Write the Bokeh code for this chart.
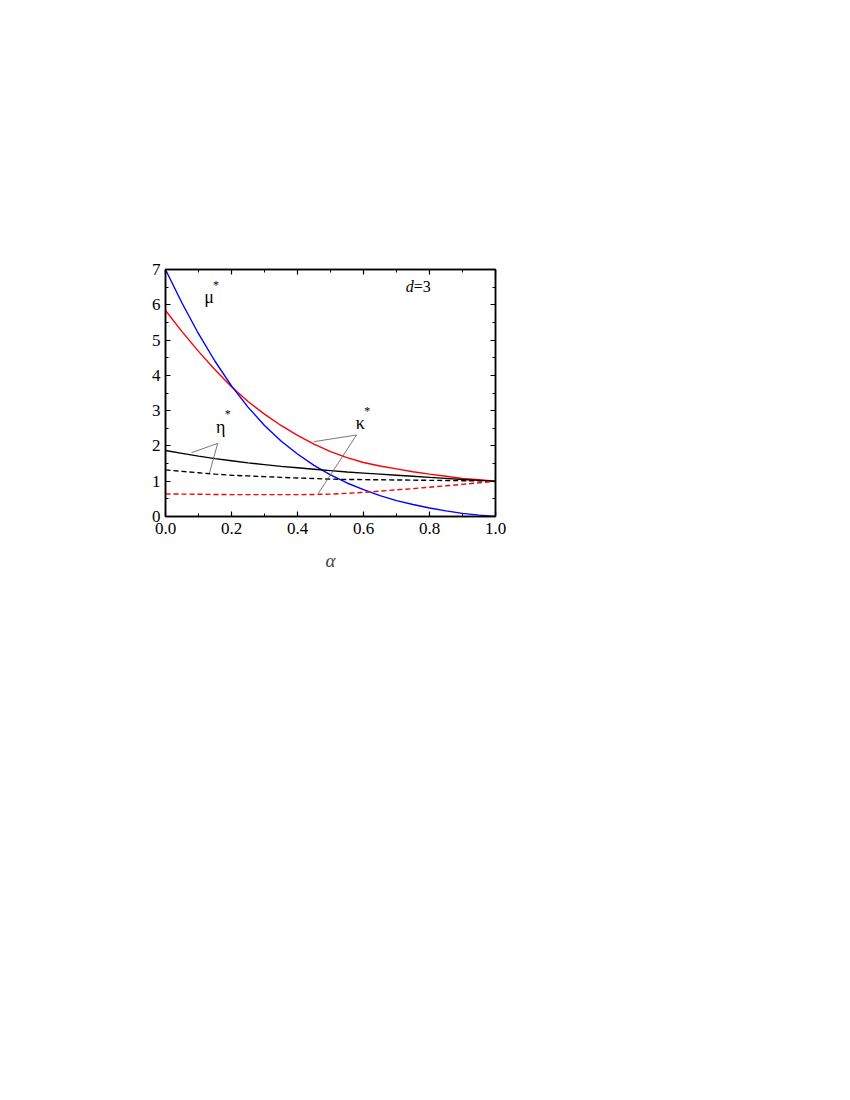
from bokeh.plotting import figure
from bokeh.models import (LinearAxis, Range1d, SingleIntervalTicker, ColumnDataSource,
                          PrintfTickFormatter, CustomLabelingPolicy)
from bokeh.core.properties import value
from bokeh.embed import file_html
from bokeh.resources import INLINE

# ---- data ----
alpha = [0.0, 0.05, 0.1, 0.15, 0.2, 0.25, 0.3, 0.35, 0.4, 0.45, 0.5,
         0.55, 0.6, 0.65, 0.7, 0.75, 0.8, 0.85, 0.9, 0.95, 1.0]
mu_star = [7.0, 6.05, 5.18, 4.40, 3.70, 3.10, 2.58, 2.14, 1.77, 1.45, 1.18,
           0.95, 0.76, 0.59, 0.45, 0.34, 0.24, 0.16, 0.09, 0.04, 0.0]
kappa_star = [5.84, 5.24, 4.68, 4.16, 3.68, 3.26, 2.90, 2.58, 2.30, 2.05, 1.84,
              1.67, 1.53, 1.43, 1.35, 1.27, 1.20, 1.14, 1.08, 1.04, 1.0]
eta_star = [1.87, 1.79, 1.71, 1.64, 1.58, 1.52, 1.47, 1.42, 1.38, 1.34, 1.30,
            1.26, 1.23, 1.20, 1.17, 1.14, 1.11, 1.08, 1.05, 1.025, 1.0]
eta_dash = [1.32, 1.28, 1.24, 1.20, 1.17, 1.15, 1.13, 1.11, 1.09, 1.075, 1.06,
            1.05, 1.045, 1.04, 1.035, 1.03, 1.025, 1.02, 1.015, 1.01, 1.0]
kappa_dash = [0.64, 0.635, 0.63, 0.625, 0.62, 0.62, 0.62, 0.62, 0.62, 0.625, 0.635,
              0.655, 0.685, 0.72, 0.755, 0.79, 0.83, 0.87, 0.91, 0.955, 1.0]

# leader lines for labels: (x, y) vertices
eta_lead_x = [0.079, 0.158, 0.133]
eta_lead_y = [1.81, 2.07, 1.22]
kappa_lead_x = [0.449, 0.579, 0.462]
kappa_lead_y = [2.12, 2.31, 0.64]

x_ticks_major = 0.2
y_ticks_major = 1

FONT = "'Liberation Serif', 'Times New Roman', serif"

p = figure(width=560, height=620, x_range=Range1d(0, 1), y_range=Range1d(0, 7),
           output_backend="svg", toolbar_location=None,
           frame_width=330, frame_height=247,
           min_border_left=165, min_border_top=269,
           min_border_right=40, min_border_bottom=80,
           x_axis_location=None, y_axis_location=None)
p.xgrid.visible = False
p.ygrid.visible = False
p.outline_line_color = "black"
p.outline_line_width = 1.5
p.background_fill_color = "white"
p.border_fill_color = "white"

hide_all = CustomLabelingPolicy(code="for (const i of indices) { indices.unset(i) }\nreturn indices")


def style_axis(ax, ticker, labels=True):
    ax.ticker = ticker
    ax.axis_line_width = 1.5
    ax.axis_line_color = "black"
    ax.major_tick_in = 5
    ax.major_tick_out = 0
    ax.minor_tick_in = 3
    ax.minor_tick_out = 0
    ax.major_tick_line_width = 1.2
    ax.minor_tick_line_width = 1.0
    ax.major_tick_line_color = "black"
    ax.minor_tick_line_color = "black"
    ax.major_label_text_font = FONT
    ax.major_label_text_font_size = "17px"
    ax.major_label_text_color = "black"
    if not labels:
        ax.major_label_policy = hide_all


xb = LinearAxis(formatter=PrintfTickFormatter(format="%.1f"))
style_axis(xb, SingleIntervalTicker(interval=x_ticks_major, num_minor_ticks=2))
xb.major_label_standoff = 6
xb.axis_label = "α"
xb.axis_label_text_font = FONT
xb.axis_label_text_font_style = "italic"
xb.axis_label_text_font_size = "19px"
xb.axis_label_standoff = 13
p.add_layout(xb, "below")

yl = LinearAxis(formatter=PrintfTickFormatter(format="%d"))
style_axis(yl, SingleIntervalTicker(interval=y_ticks_major, num_minor_ticks=2))
yl.major_label_standoff = 5
p.add_layout(yl, "left")

xt = LinearAxis()
style_axis(xt, SingleIntervalTicker(interval=x_ticks_major, num_minor_ticks=2), labels=False)
p.add_layout(xt, "above")

yr = LinearAxis()
style_axis(yr, SingleIntervalTicker(interval=y_ticks_major, num_minor_ticks=2), labels=False)
p.add_layout(yr, "right")

src = ColumnDataSource(dict(a=alpha, mu=mu_star, ka=kappa_star, eta=eta_star,
                            etad=eta_dash, kad=kappa_dash))

p.line("a", "ka", source=src, line_color="#ff0000", line_width=1.4)
p.line("a", "mu", source=src, line_color="#0000ff", line_width=1.4)
p.line("a", "eta", source=src, line_color="black", line_width=1.4)
p.line("a", "etad", source=src, line_color="black", line_width=1.4, line_dash="5 3")
p.line("a", "kad", source=src, line_color="#ff0000", line_width=1.4, line_dash="5 3")

p.line(eta_lead_x, eta_lead_y, line_color="#555555", line_width=0.8)
p.line(kappa_lead_x, kappa_lead_y, line_color="#555555", line_width=0.8)

# labels
lab_text = ["μ", "η", "κ"]
lab_x = [0.132, 0.167, 0.59]
lab_y = [6.21, 2.55, 2.65]
star_x = [0.153, 0.189, 0.611]
star_y = [6.57, 2.91, 2.98]

p.text(lab_x, lab_y, text=lab_text, text_font=value(FONT), text_font_size="18px",
       text_align="center", text_baseline="alphabetic", text_color="black")
p.text(star_x, star_y, text=["*", "*", "*"], text_font=value(FONT), text_font_size="12px",
       text_align="center", text_baseline="alphabetic", text_color="black")

p.text([0.752], [6.52], text=["d"], text_font=value(FONT), text_font_size="16px",
       text_font_style="italic", text_align="right", text_baseline="alphabetic", text_color="black")
p.text([0.752], [6.52], text=["=3"], text_font=value(FONT), text_font_size="16px",
       text_align="left", text_baseline="alphabetic", text_color="black")

open("out.html", "w").write(file_html(p, INLINE))
